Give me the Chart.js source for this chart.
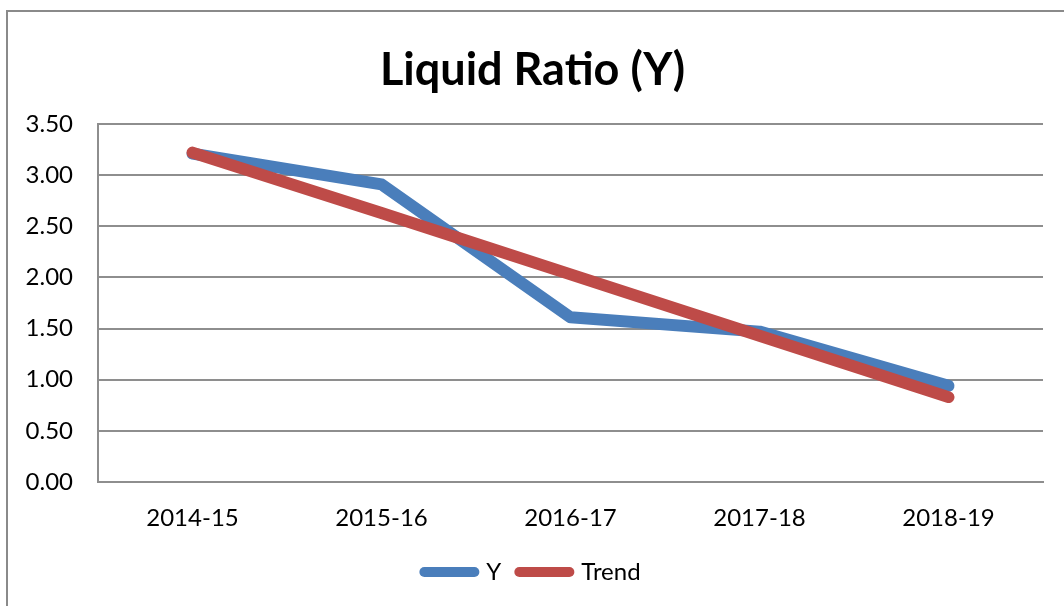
<!DOCTYPE html>
<html>
<head>
<meta charset="utf-8">
<script src="https://cdn.jsdelivr.net/npm/chart.js@4.4.0/dist/chart.umd.min.js"></script>
<style>
  html, body { margin: 0; padding: 0; background: #ffffff; }
  body { width: 1064px; height: 606px; position: relative; overflow: hidden; }
  #frame { position: absolute; left: 6px; top: 10px; width: 1200px; height: 800px;
           border-left: 2px solid #8a8a8a; border-top: 2px solid #8a8a8a; }
  #wrap { position: absolute; left: 0; top: 0; width: 1064px; height: 606px; }
</style>
</head>
<body>
<div id="frame"></div>
<div id="wrap"><canvas id="c" width="1064" height="606"></canvas></div>
<script>
const titleText = 'Liquid Ratio (Y)';
const categories = ['2014-15', '2015-16', '2016-17', '2017-18', '2018-19'];
const yValues = [3.21, 2.91, 1.61, 1.47, 0.94];
const trendValues = [3.22, 2.63, 2.03, 1.43, 0.83];
const seriesNames = ['Y', 'Trend'];
const seriesColors = ['#4a7ebb', '#be4b48'];
const yTickMin = 0, yTickMax = 3.5, yTickStep = 0.5;

const fontFamily = 'Lato, "Open Sans", sans-serif';

new Chart(document.getElementById('c'), {
  type: 'line',
  data: {
    labels: categories,
    datasets: [
      { label: seriesNames[0], data: yValues, borderColor: seriesColors[0], backgroundColor: seriesColors[0],
        borderWidth: 12, pointRadius: 0, pointHoverRadius: 0, tension: 0,
        borderCapStyle: 'round', borderJoinStyle: 'round', fill: false, order: 1 },
      { label: seriesNames[1], data: trendValues, borderColor: seriesColors[1], backgroundColor: seriesColors[1],
        borderWidth: 12, pointRadius: 0, pointHoverRadius: 0, tension: 0,
        borderCapStyle: 'round', borderJoinStyle: 'round', fill: false, order: 0 }
    ]
  },
  options: {
    responsive: false,
    animation: false,
    devicePixelRatio: 1,
    layout: { padding: { left: 22, right: 21, top: 0, bottom: 12 } },
    plugins: {
      tooltip: { enabled: false },
      title: {
        display: true, text: titleText, color: '#000000',
        font: { family: fontFamily, size: 45, weight: 'bold', lineHeight: 1.2 },
        padding: { top: 43, bottom: 27 }
      },
      legend: {
        display: true, position: 'bottom',
        labels: {
          color: '#000000',
          font: { family: fontFamily, size: 24 },
          usePointStyle: true,
          pointStyleWidth: 50,
          padding: 18,
          generateLabels: (chart) => chart.data.datasets.map((ds, i) => ({
            text: ds.label,
            fillStyle: ds.borderColor,
            strokeStyle: ds.borderColor,
            lineWidth: 10,
            lineCap: 'round',
            pointStyle: 'line',
            hidden: false,
            datasetIndex: i,
            fontColor: '#000000'
          }))
        }
      }
    },
    scales: {
      x: {
        offset: true,
        grid: { display: false, drawTicks: false },
        border: { display: true, color: '#8e8e8e', width: 2 },
        ticks: { color: '#000000', font: { family: fontFamily, size: 24 }, padding: 22, maxRotation: 0 },
        afterFit: (s) => { s.height = 60; }
      },
      y: {
        min: yTickMin, max: yTickMax,
        grid: { color: '#8e8e8e', lineWidth: 2, drawTicks: false },
        border: { display: true, color: '#8e8e8e', width: 2 },
        ticks: { stepSize: yTickStep, color: '#000000', font: { family: fontFamily, size: 24 }, padding: 25,
                 callback: (v) => Number(v).toFixed(2) },
        afterFit: (s) => { s.width = 76; }
      }
    }
  }
});
</script>
</body>
</html>
